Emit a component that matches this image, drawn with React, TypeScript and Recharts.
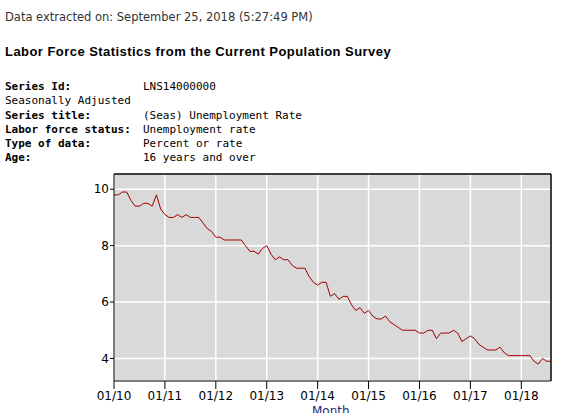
import { LineChart, Line, XAxis, YAxis, CartesianGrid, ReferenceLine } from "recharts";

// Monthly unemployment rate, Jan 2010 .. Aug 2018 (percent)
const rate2010 = [9.8, 9.8, 9.9, 9.9, 9.6, 9.4, 9.4, 9.5, 9.5, 9.4, 9.8, 9.3];
const rate2011 = [9.1, 9.0, 9.0, 9.1, 9.0, 9.1, 9.0, 9.0, 9.0, 8.8, 8.6, 8.5];
const rate2012 = [8.3, 8.3, 8.2, 8.2, 8.2, 8.2, 8.2, 8.0, 7.8, 7.8, 7.7, 7.9];
const rate2013 = [8.0, 7.7, 7.5, 7.6, 7.5, 7.5, 7.3, 7.2, 7.2, 7.2, 6.9, 6.7];
const rate2014 = [6.6, 6.7, 6.7, 6.2, 6.3, 6.1, 6.2, 6.2, 5.9, 5.7, 5.8, 5.6];
const rate2015 = [5.7, 5.5, 5.4, 5.4, 5.5, 5.3, 5.2, 5.1, 5.0, 5.0, 5.0, 5.0];
const rate2016 = [4.9, 4.9, 5.0, 5.0, 4.7, 4.9, 4.9, 4.9, 5.0, 4.9, 4.6, 4.7];
const rate2017 = [4.8, 4.7, 4.5, 4.4, 4.3, 4.3, 4.3, 4.4, 4.2, 4.1, 4.1, 4.1];
const rate2018 = [4.1, 4.1, 4.1, 3.9, 3.8, 4.0, 3.9, 3.9];

const rates = [
  ...rate2010, ...rate2011, ...rate2012, ...rate2013, ...rate2014,
  ...rate2015, ...rate2016, ...rate2017, ...rate2018,
];

const yearTicks = [0, 12, 24, 36, 48, 60, 72, 84, 96];
const yearLabels = ["01/10", "01/11", "01/12", "01/13", "01/14", "01/15", "01/16", "01/17", "01/18"];
const rateTicks = [4, 6, 8, 10];
const xDomain = [0, 103];
const yDomain = [3.2, 10.54];

const infoLabels = ["Series Id:", "Seasonally Adjusted", "Series title:", "Labor force status:", "Type of data:", "Age:"];
const infoValues = ["LNS14000000", "", "(Seas) Unemployment Rate", "Unemployment rate", "Percent or rate", "16 years and over"];

const data = rates.map((rate, i) => ({ i, rate }));

const tickStyle = { fontFamily: "DejaVu Sans", fontSize: 12, fill: "#000" };

export default function App() {
  return (
    <div style={{ position: "absolute", left: 0, top: 0, width: 578, height: 413, overflow: "hidden", background: "#fff" }}>
      <div
        style={{
          position: "absolute", left: 5, top: 10, fontFamily: "DejaVu Sans", fontSize: 11.5,
          color: "#333", whiteSpace: "nowrap",
        }}
      >
        Data extracted on: September 25, 2018 (5:27:49 PM)
      </div>
      <div
        style={{
          position: "absolute", left: 5, top: 44, fontFamily: "Liberation Sans", fontSize: 13,
          letterSpacing: 0.45, fontWeight: "bold", color: "#000", whiteSpace: "nowrap",
        }}
      >
        Labor Force Statistics from the Current Population Survey
      </div>
      <div style={{ position: "absolute", left: 5, top: 80, fontFamily: "DejaVu Sans Mono", fontSize: 11, lineHeight: "14.3px", color: "#000" }}>
        {infoLabels.map((label, k) => (
          <div key={k} style={{ whiteSpace: "pre" }}>
            <span style={{ fontWeight: k === 1 ? "normal" : "bold", display: "inline-block", width: 138 }}>{label}</span>
            <span>{infoValues[k]}</span>
          </div>
        ))}
      </div>
      <div style={{ position: "absolute", left: 0, top: 0 }}>
        <LineChart width={578} height={413} data={data} margin={{ top: 174, right: 27, bottom: 2, left: 74 }}>
          <CartesianGrid fill="#d9d9d9" stroke="#ffffff" strokeWidth={1.5} />
          <XAxis
            dataKey="i"
            type="number"
            domain={xDomain}
            ticks={yearTicks}
            tickFormatter={(v: number) => yearLabels[yearTicks.indexOf(v)]}
            tick={tickStyle}
            tickSize={8}
            tickMargin={2}
            stroke="#000"
            height={30}
            allowDataOverflow
          />
          <YAxis
            domain={yDomain}
            ticks={rateTicks}
            tick={tickStyle}
            tickSize={4}
            tickMargin={1}
            stroke="#000"
            width={40}
            allowDataOverflow
          />
          <ReferenceLine y={yDomain[1]} stroke="#000" strokeWidth={1.5} ifOverflow="extendDomain" />
          <ReferenceLine x={xDomain[1]} stroke="#000" strokeWidth={1.5} ifOverflow="extendDomain" />
          <Line dataKey="rate" stroke="#a00000" strokeWidth={1} dot={false} isAnimationActive={false} />
        </LineChart>
      </div>
      <div
        style={{
          position: "absolute", left: 312, top: 404, fontFamily: "DejaVu Sans", fontSize: 12,
          color: "#1f2a7a", whiteSpace: "nowrap",
        }}
      >
        Month
      </div>
    </div>
  );
}
